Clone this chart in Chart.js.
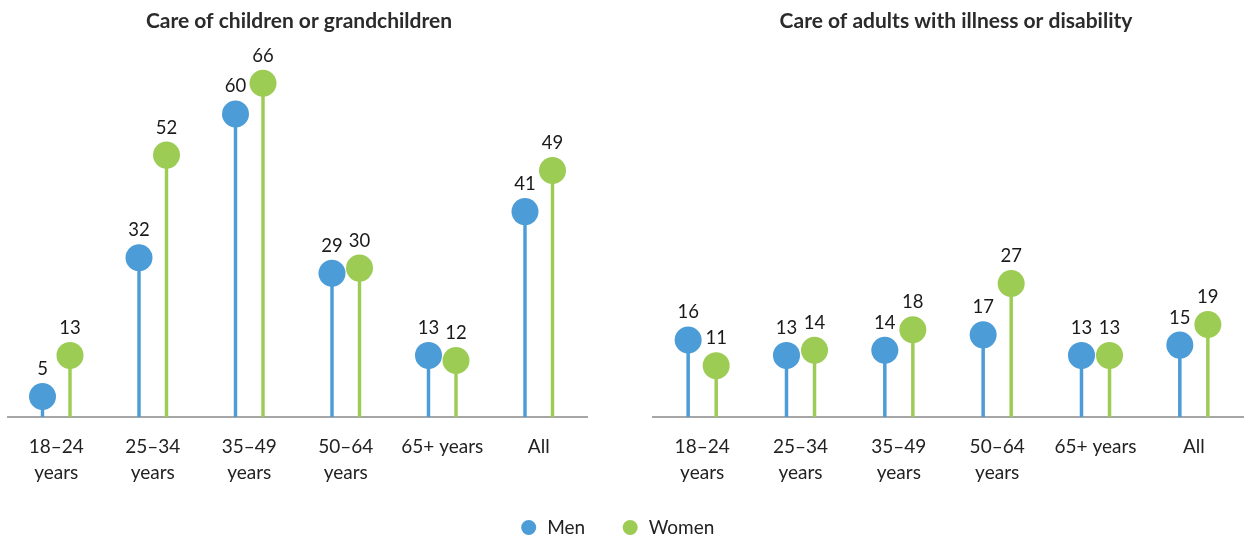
<!DOCTYPE html>
<html><head><meta charset="utf-8">
<script src="https://cdn.jsdelivr.net/npm/chart.js@4.4.1/dist/chart.umd.min.js"></script>
<style>
html,body{margin:0;padding:0;background:#fff;width:1244px;height:538px;overflow:hidden;position:relative;}
.box{position:absolute;}
</style></head><body>
<div class="box" style="left:0;top:0;width:600px;height:500px"><canvas id="c1"></canvas></div>
<div class="box" style="left:640px;top:0;width:604px;height:500px"><canvas id="c2"></canvas></div>
<div class="box" style="left:0;top:482px;width:1244px;height:200px"><canvas id="c3"></canvas></div>
<script>
const categories = [['18–24','years'],['25–34','years'],['35–49','years'],['50–64','years'],'65+ years','All'];
const seriesNames = ['Men','Women'];
const childrenMen = [5,32,60,29,13,41];
const childrenWomen = [13,52,66,30,12,49];
const adultsMen = [16,13,14,17,13,15];
const adultsWomen = [11,14,18,27,13,19];
const panelTitles = ['Care of children or grandchildren','Care of adults with illness or disability'];
const seriesColors = ['#4B9CD7','#9DCC55'];

const FONT = 'Lato';

const lollipop = {
  id: 'lollipop',
  afterDatasetsDraw(chart, args, opts) {
    const ctx = chart.ctx;
    chart.data.datasets.forEach((ds, i) => {
      const meta = chart.getDatasetMeta(i);
      meta.data.forEach((bar, j) => {
        ctx.save();
        ctx.fillStyle = ds.backgroundColor;
        ctx.beginPath();
        ctx.arc(bar.x, bar.y, opts.radius, 0, Math.PI * 2);
        ctx.fill();
        ctx.fillStyle = '#1a1a1a';
        ctx.font = opts.labelSize + 'px ' + FONT;
        ctx.textAlign = 'center';
        ctx.textBaseline = 'middle';
        ctx.fillText(String(ds.data[j]), bar.x, bar.y - opts.labelOffset);
        ctx.restore();
      });
    });
    const ca = chart.chartArea;
    ctx.save();
    ctx.font = 'bold 21px ' + FONT;
    ctx.fillStyle = '#2b2b2b';
    ctx.textAlign = 'center';
    ctx.textBaseline = 'middle';
    ctx.fillText(opts.title, (ca.left + ca.right) / 2 + opts.titleDx, opts.titleY);
    ctx.restore();
  }
};

function makePanel(id, men, women, title, padLeft, padRight, titleDx) {
  return new Chart(document.getElementById(id), {
    type: 'bar',
    data: {
      labels: categories,
      datasets: [
        {label: seriesNames[0], data: men, backgroundColor: seriesColors[0], borderWidth: 0},
        {label: seriesNames[1], data: women, backgroundColor: seriesColors[1], borderWidth: 0}
      ]
    },
    options: {
      responsive: true,
      maintainAspectRatio: false,
      animation: false,
      events: [],
      categoryPercentage: 0.57,
      barPercentage: 0.125,
      layout: {padding: {left: padLeft, right: padRight, top: 37, bottom: 0}},
      plugins: {
        legend: {display: false},
        tooltip: {enabled: false},
        lollipop: {radius: 13.5, labelOffset: 27.5, labelSize: 18.5, title: title, titleDx: titleDx, titleY: 21.5}
      },
      scales: {
        x: {
          grid: {display: false, drawTicks: false},
          border: {display: true, color: '#a6a6a6', width: 2},
          ticks: {color: '#222', font: {family: FONT, size: 19, lineHeight: 1.37}, padding: 17, autoSkip: false, maxRotation: 0},
          afterFit(scale) { scale.height = 83; }
        },
        y: {
          display: false,
          min: 1,
          max: 75
        }
      }
    },
    plugins: [lollipop]
  });
}

makePanel('c1', childrenMen, childrenWomen, panelTitles[0], 8, 13, 1.5);
makePanel('c2', adultsMen, adultsWomen, panelTitles[1], 13, 1, 8);

new Chart(document.getElementById('c3'), {
  type: 'bar',
  data: {
    labels: ['legend'],
    datasets: [
      {label: seriesNames[0], data: [], backgroundColor: seriesColors[0], borderWidth: 0},
      {label: seriesNames[1], data: [], backgroundColor: seriesColors[1], borderWidth: 0}
    ]
  },
  options: {
    responsive: true,
    maintainAspectRatio: false,
    animation: false,
    events: [],
    layout: {padding: {left: 0, right: 10, top: 0, bottom: 0}},
    plugins: {
      tooltip: {enabled: false},
      legend: {
        position: 'top',
        labels: {usePointStyle: true, pointStyle: 'circle', boxWidth: 18, boxHeight: 10.6, padding: 36,
                 color: '#222', font: {family: FONT, size: 19}}
      }
    },
    scales: {x: {display: false}, y: {display: false}}
  }
});
</script>
</body></html>
